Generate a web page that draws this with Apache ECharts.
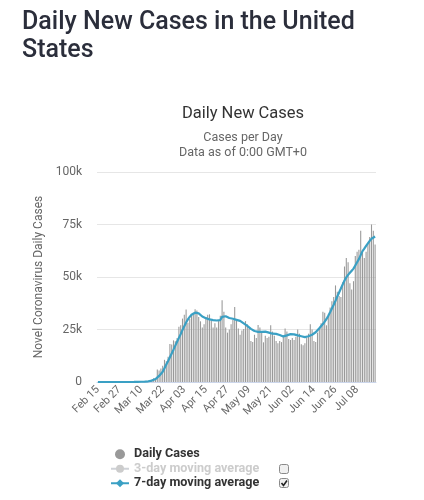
<!DOCTYPE html>
<html><head><meta charset="utf-8">
<script src="https://cdn.jsdelivr.net/npm/echarts@6/dist/echarts.min.js"></script>
<style>html,body{margin:0;padding:0;background:#fff}#c{width:424px;height:500px}</style>
</head><body><div id="c"></div>
<script>
const monthSpans = [['Feb',15,29],['Mar',1,31],['Apr',1,30],['May',1,31],['Jun',1,30],['Jul',1,18]];
const categories = [];
monthSpans.forEach(function(s){for(let d=s[1];d<=s[2];d++)categories.push(s[0]+' '+String(d).padStart(2,'0'));});

const dailyCases = [
 0,0,0,0,0,0,2,0,0,18,0,0,0,0,1,
 7,23,20,31,68,45,140,116,65,376,322,382,516,548,772,1133,1789,1362,5894,5423,6389,7787,10571,9893,12038,18058,17821,19821,19408,20921,26341,
 27000,30200,32000,34500,28200,30000,31500,33000,34600,34000,31000,28900,26000,27500,30000,32000,32200,29000,26000,28000,26000,29000,31500,38900,33500,26000,23500,25000,27500,29500,
 35700,29500,25500,22500,24500,25200,29000,27500,25500,19500,19000,22500,21000,27200,26000,24000,18900,22000,21000,21500,27000,24000,22000,19500,18500,19500,19000,22000,25500,24000,20500,
 20000,21000,20000,21500,25000,23000,18000,17500,18500,21000,23000,27500,25000,19500,19000,23500,25500,28000,33500,33000,27000,31500,35500,38500,40500,46000,43000,41000,40500,47500,
 55000,59000,57000,47000,44000,48000,60000,62000,63000,72000,62000,59000,62000,66000,69000,75000,72000,65500
];
const sevenDayAvg = [
 0,0,0,0,0,0,0,0,0,3,3,3,3,3,3,
 4,6,7,11,21,27,47,63,70,120,160,200,260,340,480,680,950,1400,2100,2900,3800,4900,6600,8300,10000,11800,13600,15400,17300,19200,21000,
 22800,24800,26600,28300,29800,31000,32000,32600,33000,33100,32700,32000,31200,30700,30400,30100,29800,29600,29500,29400,29300,29200,29500,31000,31700,31300,30800,30500,30300,30100,
 30000,29600,29400,29100,28500,27900,27300,26700,26000,25300,24700,24300,24000,23900,23800,23900,24000,24000,23800,23500,23300,23000,22900,22900,22700,22400,22000,21700,21800,22200,22600,
 22800,22800,22700,22500,22200,22000,21800,21600,21400,21400,21800,22200,22500,23000,23700,24600,25600,26500,27600,28800,30000,31500,33200,35000,36800,38700,40700,42600,44500,46500,
 48300,49800,51000,52000,53000,54000,55500,57000,58500,60400,62300,63500,64800,66000,67200,68200,68800,69300
];
const threeDayAvg = [];
const yTickLabels = ['0','25k','50k','75k','100k'];

const chart = echarts.init(document.getElementById('c'), null, {renderer:'canvas'});
const FONT = 'Roboto';
chart.setOption({
  animation:false,
  textStyle:{fontFamily:FONT},
  title:[
    {text:'Daily New Cases in the United\nStates', left:17, top:4,
     textStyle:{fontFamily:FONT, fontSize:25, fontWeight:500, color:'#2b2e3b', lineHeight:28}},
    {text:'Daily New Cases', left:238, textAlign:'center', top:100,
     textStyle:{fontFamily:FONT, fontSize:16.5, fontWeight:'normal', color:'#333'}},
    {text:'Cases per Day\nData as of 0:00 GMT+0', left:238, textAlign:'center', top:125,
     textStyle:{fontFamily:FONT, fontSize:12.5, fontWeight:'normal', color:'#666', lineHeight:15.5}}
  ],
  grid:{left:97, right:48, top:172, bottom:118},
  xAxis:{type:'category', data:categories, boundaryGap:true,
    axisLine:{lineStyle:{color:'#ccd6eb'}}, axisTick:{show:false},
    axisLabel:{interval:11, rotate:45, color:'#666', fontSize:11, margin:6}},
  yAxis:{type:'value', min:0, max:100000, interval:25000,
    name:'Novel Coronavirus Daily Cases', nameLocation:'middle', nameGap:46,
    nameTextStyle:{color:'#666', fontSize:12},
    axisLabel:{color:'#666', fontSize:12, margin:15,
      formatter:function(v){return yTickLabels[Math.round(v/25000)];}},
    axisLine:{show:false}, axisTick:{show:false},
    splitLine:{lineStyle:{color:'#e6e6e6'}}},
  legend:{orient:'vertical', left:110, top:447, padding:0, itemWidth:18, itemHeight:10, itemGap:0,
    textStyle:{fontFamily:FONT, fontWeight:'bold', fontSize:12.6, color:'#333', lineHeight:14.5},
    inactiveColor:'#ccc', selected:{'3-day moving average':false},
    data:[{name:'Daily Cases', icon:'circle'}, '3-day moving average', '7-day moving average']},
  series:[
    {name:'Daily Cases', type:'bar', data:dailyCases, itemStyle:{color:'#999'}, barCategoryGap:'40%'},
    {name:'3-day moving average', type:'line', data:threeDayAvg, symbol:'circle', color:'#ccc'},
    {name:'7-day moving average', type:'line', data:sevenDayAvg, symbol:'diamond', showSymbol:false,
      color:'#3aa0c4', lineStyle:{width:2.2, color:'#3aa0c4'}, itemStyle:{color:'#3aa0c4'}, z:5}
  ],
  graphic:[
    {type:'rect', shape:{x:279.5, y:464.5, width:9, height:9, r:2}, style:{fill:'#f0f0f0', stroke:'#8a8a8a', lineWidth:1}},
    {type:'rect', shape:{x:279.5, y:478.5, width:9, height:9, r:2}, style:{fill:'#f0f0f0', stroke:'#8a8a8a', lineWidth:1}},
    {type:'polyline', shape:{points:[[281.5,483],[283.5,485.5],[287,480.5]]}, style:{stroke:'#222', lineWidth:1.6, fill:null}}
  ]
});
</script></body></html>
